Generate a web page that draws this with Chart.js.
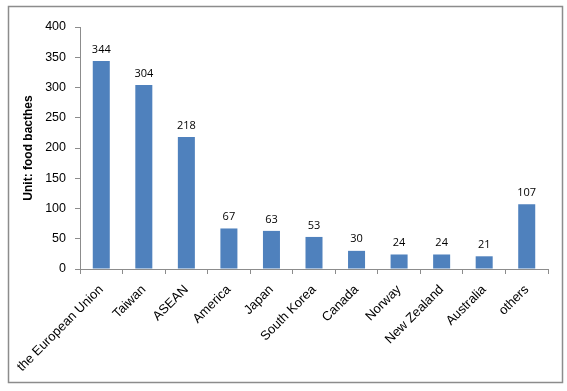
<!DOCTYPE html>
<html>
<head>
<meta charset="utf-8">
<script src="https://cdn.jsdelivr.net/npm/chart.js@4"></script>
<style>
  html, body { margin: 0; padding: 0; background: #fff; }
  #wrap { width: 567px; height: 391px; }
</style>
</head>
<body>
<div id="wrap"><canvas id="chart" width="567" height="391"></canvas></div>
<script>
const regions = ['the European Union', 'Taiwan', 'ASEAN', 'America', 'Japan', 'South Korea',
                 'Canada', 'Norway', 'New Zealand', 'Australia', 'others'];
const batches = [344, 304, 218, 67, 63, 53, 30, 24, 24, 21, 107];
const yTicks = [0, 50, 100, 150, 200, 250, 300, 350, 400];

// outer grey frame like the spreadsheet chart box
const framePlugin = {
    id: 'frame',
    beforeDraw(chart) {
        const ctx = chart.ctx;
        ctx.save();
        ctx.fillStyle = '#ffffff';
        ctx.fillRect(0, 0, chart.width, chart.height);
        ctx.strokeStyle = '#8c8c8c';
        ctx.lineWidth = 1.5;
        ctx.strokeRect(8.5, 6.5, 554, 376);
        ctx.restore();
    }
};

// value labels above each bar
const valueLabels = {
    id: 'valueLabels',
    afterDatasetsDraw(chart) {
        const ctx = chart.ctx;
        const meta = chart.getDatasetMeta(0);
        ctx.save();
        ctx.font = '11px "Open Sans", sans-serif';
        ctx.fillStyle = '#000';
        ctx.textAlign = 'center';
        ctx.textBaseline = 'bottom';
        meta.data.forEach((bar, i) => {
            ctx.fillText(String(batches[i]), bar.x, bar.y - 6);
        });
        ctx.restore();
    }
};

new Chart(document.getElementById('chart'), {
    type: 'bar',
    data: {
        labels: regions,
        datasets: [{
            data: batches,
            backgroundColor: '#4f81bd',
            borderWidth: 0,
            barPercentage: 0.4,
            categoryPercentage: 1.0
        }]
    },
    options: {
        responsive: false,
        animation: false,
        layout: {
            padding: { left: 17, right: 19, top: 27, bottom: 0 }
        },
        plugins: {
            legend: { display: false },
            tooltip: { enabled: false }
        },
        scales: {
            x: {
                grid: {
                    offset: true,
                    drawOnChartArea: false,
                    drawTicks: true,
                    tickLength: 5,
                    color: '#8c8c8c'
                },
                border: { color: '#8c8c8c' },
                ticks: {
                    color: '#000',
                    font: { family: '"Liberation Sans", Arial, sans-serif', size: 13 },
                    minRotation: 45,
                    maxRotation: 45,
                    autoSkip: false,
                    padding: 8
                },
                afterFit(axis) { axis.height = 122; }
            },
            y: {
                min: 0,
                max: 400,
                afterBuildTicks(axis) {
                    axis.ticks = yTicks.map(v => ({ value: v }));
                },
                grid: {
                    drawOnChartArea: false,
                    drawTicks: true,
                    tickLength: 5,
                    color: '#8c8c8c'
                },
                border: { color: '#8c8c8c' },
                ticks: {
                    color: '#000',
                    font: { family: '"Liberation Sans", Arial, sans-serif', size: 12.5 },
                    padding: 9
                },
                title: {
                    display: true,
                    text: 'Unit: food bacthes',
                    color: '#000',
                    font: { family: '"Liberation Sans", Arial, sans-serif', size: 12, weight: 'bold' },
                    padding: { top: 4, bottom: 4 }
                },
                afterFit(axis) { axis.width = 63; }
            }
        }
    },
    plugins: [framePlugin, valueLabels]
});
</script>
</body>
</html>
